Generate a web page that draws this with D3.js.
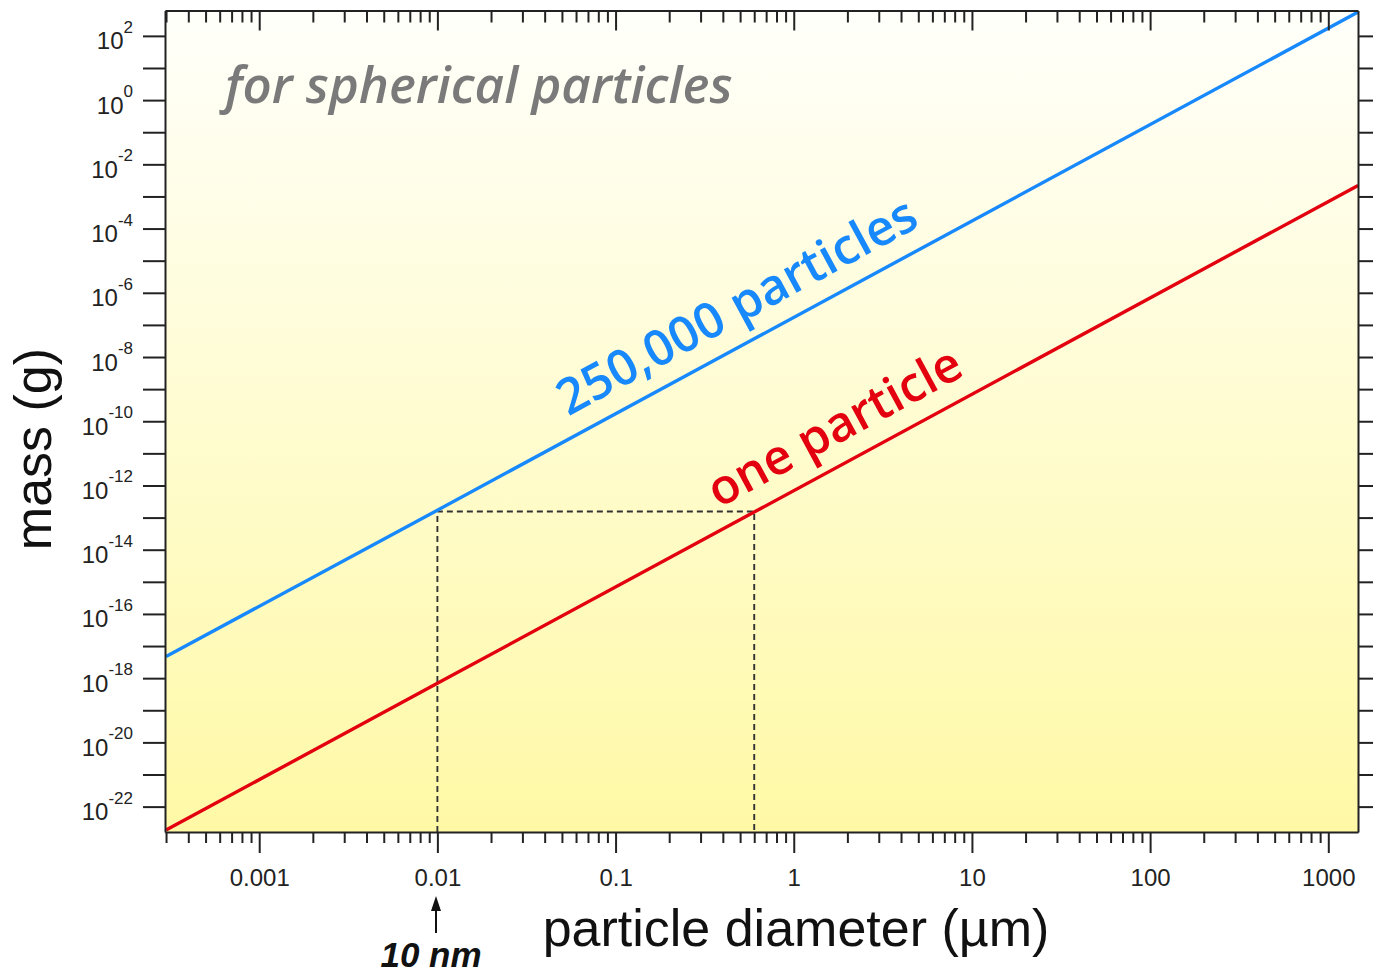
<!DOCTYPE html>
<html>
<head>
<meta charset="utf-8">
<script src="https://cdn.jsdelivr.net/npm/d3@7"></script>
<style>
  html, body { margin: 0; padding: 0; background: #fff; }
  svg { display: block; }
</style>
</head>
<body>
<svg id="chart" width="1373" height="973"></svg>
<script>
// values
const diameters = [0.0003, 0.01, 0.6, 1470]          // particle diameter (µm)
const massOne = [1.86e-23, 6.9e-19, 1.49e-13, 2.2e-3]  // one particle (g)
const massMany = [4.7e-18, 1.7e-13, 3.7e-8, 550]       // 250,000 particles (g)
const guideDiam = [0.01, 0.6]
const guideMass = 1.55e-13
const xMajor = [0.001, 0.01, 0.1, 1, 10, 100, 1000]
const xLabels = ["0.001", "0.01", "0.1", "1", "10", "100", "1000"]
const yExps = [2, 1, 0, -1, -2, -3, -4, -5, -6, -7, -8, -9, -10, -11, -12, -13, -14, -15, -16, -17, -18, -19, -20, -21, -22]
const yLabelExps = [2, 0, -2, -4, -6, -8, -10, -12, -14, -16, -18, -20, -22]

var margin = {top: 10.5, right: 15, bottom: 141, left: 165},
    width = 1373 - margin.left - margin.right,
    height = 973 - margin.top - margin.bottom

const svg = d3.select("#chart")
const defs = svg.append("defs")

const grad = defs.append("linearGradient")
    .attr("id", "bg").attr("x1", 0).attr("y1", 0).attr("x2", 0).attr("y2", 1)
grad.append("stop").attr("offset", "0%").attr("stop-color", "#fffffb")
grad.append("stop").attr("offset", "100%").attr("stop-color", "#fff9a6")

defs.append("clipPath").attr("id", "clip")
    .append("rect").attr("width", width).attr("height", height)

const g = svg.append("g")
    .attr("transform", "translate(" + margin.left + "," + margin.top + ")")

const x = d3.scaleLog().domain([2.96e-4, 1468]).range([0, width])
const y = d3.scaleLog().domain([1.62e-23, 617]).range([height, 0])

g.append("rect").attr("width", width).attr("height", height).attr("fill", "url(#bg)")

// minor ticks 1..9 per decade
const xTicks = []
for (let e = -4; e <= 3; e++) {
    for (let m = 1; m <= 9; m++) {
        const v = m * Math.pow(10, e)
        if (v >= x.domain()[0] && v <= x.domain()[1]) xTicks.push(v)
    }
}
const isMajor = v => xMajor.some(m => Math.abs(m - v) / m < 1e-6)
const yTicks = yExps.map(e => Math.pow(10, e))

// lines
const line = d3.line()
    .x(d => x(d[0]))
    .y(d => y(d[1]))

const lines = g.append("g").attr("clip-path", "url(#clip)")

// dashed guide
lines.append("path")
    .attr("d", "M" + x(guideDiam[0]) + "," + height +
        "V" + y(guideMass) + "H" + x(guideDiam[1]) + "V" + height)
    .attr("fill", "none")
    .attr("stroke", "#333")
    .attr("stroke-width", 1.9)
    .attr("stroke-dasharray", "6,4")

lines.append("path")
    .datum(diameters.map((d, i) => [d, massMany[i]]))
    .attr("d", line)
    .attr("fill", "none")
    .attr("stroke", "#1789fc")
    .attr("stroke-width", 3.4)

lines.append("path")
    .datum(diameters.map((d, i) => [d, massOne[i]]))
    .attr("d", line)
    .attr("fill", "none")
    .attr("stroke", "#e3000f")
    .attr("stroke-width", 3.4)

// axes
function styleAxis(sel) {
    sel.select(".domain").attr("stroke", "#222").attr("stroke-width", 2)
    sel.selectAll(".tick line").attr("stroke", "#222").attr("stroke-width", 2)
}

const gX = g.append("g")
    .attr("transform", "translate(0," + height + ")")
    .call(d3.axisBottom(x).tickValues(xTicks).tickSize(11).tickSizeOuter(0)
        .tickFormat(d => isMajor(d) ? xLabels[xMajor.findIndex(m => Math.abs(m - d) / m < 1e-6)] : ""))
gX.call(styleAxis)
gX.selectAll(".tick").filter(d => isMajor(d)).select("line").attr("y2", 21)
gX.selectAll(".tick text")
    .attr("y", 54).attr("dy", 0)
    .attr("font-family", "'Liberation Sans', Arial, sans-serif")
    .attr("font-size", 24).attr("fill", "#222")

const gT = g.append("g")
    .call(d3.axisTop(x).tickValues(xTicks).tickSize(-12).tickSizeOuter(0).tickFormat(""))
gT.call(styleAxis)
gT.selectAll(".tick").filter(d => isMajor(d)).select("line").attr("y2", 20)

const gY = g.append("g")
    .call(d3.axisLeft(y).tickValues(yTicks).tickSize(22).tickSizeOuter(0).tickFormat(""))
gY.call(styleAxis)

const gR = g.append("g")
    .attr("transform", "translate(" + width + ",0)")
    .call(d3.axisRight(y).tickValues(yTicks).tickSize(16).tickSizeOuter(0).tickFormat(""))
gR.call(styleAxis)

// y labels 10^n
const yl = g.append("g")
    .attr("font-family", "'Liberation Sans', Arial, sans-serif")
    .attr("fill", "#222")
yLabelExps.forEach(function (e) {
    const t = yl.append("text")
        .attr("x", -32)
        .attr("y", y(Math.pow(10, e)) + 13.5)
        .attr("text-anchor", "end")
        .attr("font-size", 24)
    t.append("tspan").text("10")
    t.append("tspan").attr("font-size", 17).attr("dy", -16.5).text(String(e))
})

// axis titles
svg.append("text")
    .attr("x", 796).attr("y", 946)
    .attr("text-anchor", "middle")
    .attr("font-family", "'Liberation Sans', Arial, sans-serif")
    .attr("font-size", 52).attr("fill", "#111")
    .text("particle diameter (\u00b5m)")

svg.append("text")
    .attr("transform", "translate(51,449) rotate(-90)")
    .attr("text-anchor", "middle")
    .attr("font-family", "'Liberation Sans', Arial, sans-serif")
    .attr("font-size", 52).attr("fill", "#111")
    .text("mass (g)")

// 10 nm marker
svg.append("path")
    .attr("d", "M436,933V906")
    .attr("stroke", "#111").attr("stroke-width", 2)
svg.append("path")
    .attr("d", "M436,896L441,911L431,911Z")
    .attr("fill", "#111")
svg.append("text")
    .attr("x", 431).attr("y", 967)
    .attr("text-anchor", "middle")
    .attr("font-family", "'Liberation Sans', Arial, sans-serif")
    .attr("font-size", 35).attr("font-weight", "bold").attr("font-style", "italic")
    .attr("fill", "#111")
    .text("10 nm")

// annotations
g.append("text")
    .attr("x", 225 - margin.left).attr("y", 103 - margin.top)
    .attr("font-family", "'Open Sans', sans-serif")
    .attr("font-size", 51).attr("font-style", "italic").attr("font-weight", 600)
    .attr("fill", "#7a7a7a")
    .text("for spherical particles")

function lineLabel(d, masses, label, color, off, size) {
    const p0 = [x(diameters[0]), y(masses[0])]
    const p1 = [x(diameters[3]), y(masses[3])]
    const ang = Math.atan2(p1[1] - p0[1], p1[0] - p0[0]) * 180 / Math.PI
    const px = x(d)
    const py = p0[1] + (px - p0[0]) * (p1[1] - p0[1]) / (p1[0] - p0[0])
    g.append("text")
        .attr("transform", "translate(" + px + "," + py + ") rotate(" + ang + ")")
        .attr("y", -off)
        .attr("text-anchor", "middle")
        .attr("font-family", "'Open Sans', sans-serif")
        .attr("font-size", size).attr("font-weight", 600)
        .attr("fill", color)
        .text(label)
}
lineLabel(0.6, massMany, "250,000 particles", "#1789fc", 20, 49.5)
lineLabel(2.12, massOne, "one particle", "#e3000f", 20, 49)
</script>
</body>
</html>
